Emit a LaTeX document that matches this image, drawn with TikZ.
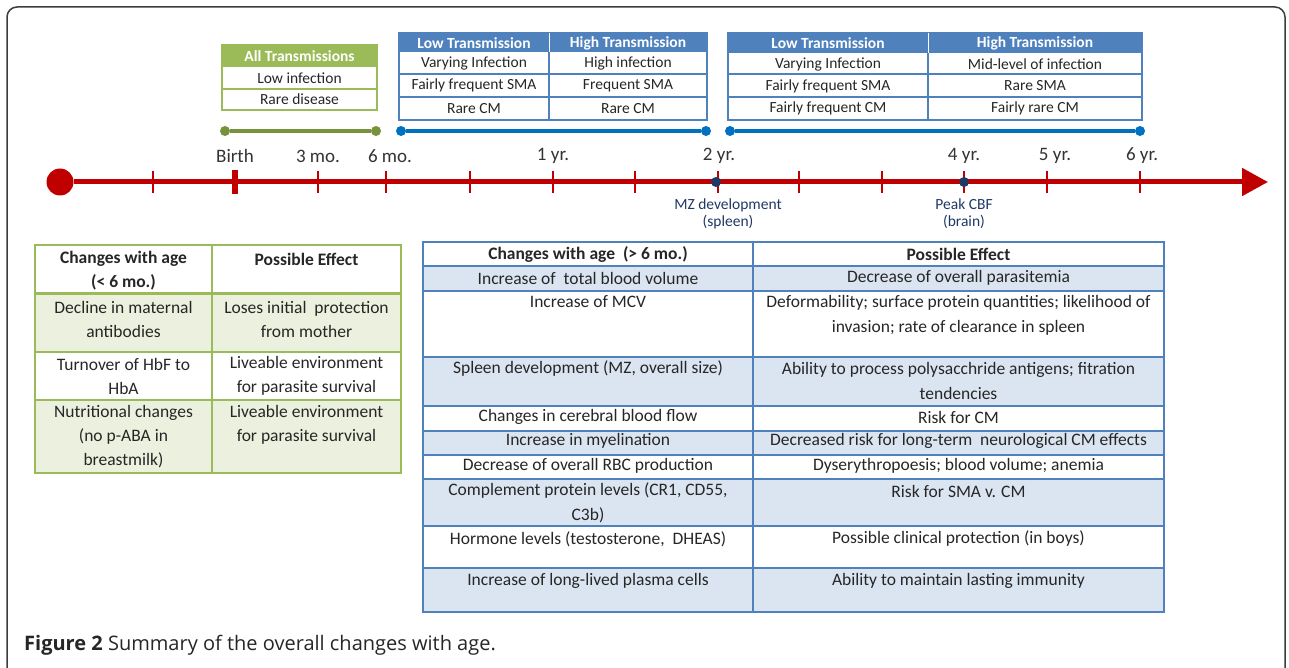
\documentclass[tikz,border=0pt]{standalone}
\usepackage{fontspec}
\setmainfont{Carlito}
\newfontfamily\capfont{Open Sans}
\usetikzlibrary{arrows.meta}
\pgfdeclarelayer{celllayer}
\pgfdeclarelayer{gridlayer}
\pgfsetlayers{celllayer,gridlayer,main}
\definecolor{tlred}{RGB}{192,0,0}
\definecolor{grnhead}{RGB}{155,187,89}
\definecolor{grnline}{RGB}{118,146,60}
\definecolor{grnpale}{RGB}{235,241,222}
\definecolor{bluhead}{RGB}{79,129,189}
\definecolor{bluline}{RGB}{0,112,192}
\definecolor{blupale}{RGB}{219,229,241}
\definecolor{navy}{RGB}{31,56,100}
\definecolor{framegray}{RGB}{60,60,60}
\tikzstyle{tick label}=[font=\fontsize{19}{19}\selectfont, text=black!80, inner sep=0pt]
\tikzstyle{event label}=[font=\fontsize{15.5}{17}\selectfont, text=navy, align=center, inner sep=0pt]
\tikzstyle{event dot}=[circle, fill=navy, inner sep=0pt, minimum size=10pt]
\tikzstyle{green dot}=[circle, fill=grnline, inner sep=0pt, minimum size=10pt]
\tikzstyle{blue dot}=[circle, fill=bluline, inner sep=0pt, minimum size=10pt]
\tikzstyle{green period}=[draw=grnline, line width=3.5pt]
\tikzstyle{blue period}=[draw=bluline, line width=3.5pt]
\tikzstyle{top cell}=[font=\fontsize{15.5}{18}\selectfont, text=black!85, inner sep=0pt]
\tikzstyle{top head}=[font=\fontsize{15.5}{18}\selectfont\bfseries, text=white, inner sep=0pt]
\tikzstyle{left cell}=[font=\fontsize{17.5}{24}\selectfont, text=black!85, align=center, inner sep=0pt]
\tikzstyle{left head}=[left cell, font=\fontsize{17.5}{24}\selectfont\bfseries]
\tikzstyle{right cell}=[font=\fontsize{17.5}{25}\selectfont, text=black!85, align=center, inner sep=0pt]
\tikzstyle{right head}=[right cell, font=\fontsize{17.5}{25}\selectfont\bfseries]

\begin{document}
\begin{tikzpicture}[x=1pt, y=-1pt]
	\useasboundingbox (0,0) rectangle (1289,668);
	% frame
	\draw [framegray, line width=1.5pt, rounded corners=10pt] (7,668) -- (7,7) -- (1285,7) -- (1285,668);
	\begin{pgfonlayer}{celllayer}
		% top tables
		\fill [grnhead] (222,45) rectangle (377,67);
		\fill [bluhead] (399,33) rectangle (707,52);
		\fill [bluhead] (728,33) rectangle (1142,53);
		% left table
		\fill [grnpale] (35,293) rectangle (401,352);
		\fill [grnpale] (35,400) rectangle (401,473);
		% right table
		\foreach \a/\b in {266/291, 357/406, 431/455, 479/526, 568/612}
			\fill [blupale] (423,\a) rectangle (1164,\b);
	\end{pgfonlayer}
	\begin{pgfonlayer}{gridlayer}
		\draw [grnhead, line width=1.5pt] (222,45) rectangle (377,110);
		\draw [grnhead, line width=1.2pt] (222,89) -- (377,89);
		\draw [bluhead, line width=1.5pt] (399,33) rectangle (707,120);
		\draw [bluhead, line width=1.2pt] (399,74) -- (707,74) (399,97) -- (707,97) (549,52) -- (549,120);
		\draw [white, line width=0.8pt] (549,33) -- (549,52);
		\draw [bluhead, line width=1.5pt] (728,33) rectangle (1142,120);
		\draw [bluhead, line width=1.2pt] (728,74) -- (1142,74) (728,97) -- (1142,97) (928,53) -- (928,120);
		\draw [white, line width=0.8pt] (928,33) -- (928,53);
		\draw [grnhead, line width=2pt] (35,245) rectangle (401,473);
		\draw [grnhead, line width=3pt] (35,293) -- (401,293);
		\draw [grnhead, line width=1.5pt] (35,352) -- (401,352) (35,400) -- (401,400) (212,245) -- (212,473);
		\draw [bluhead, line width=2pt] (423,242) rectangle (1164,612);
		\draw [bluhead, line width=2.5pt] (423,266) -- (1164,266);
		\foreach \y in {291,357,406,431,455,479,526,568}
			\draw [bluhead, line width=1.2pt] (423,\y) -- (1164,\y);
		\draw [bluhead, line width=1.5pt] (753,242) -- (753,612);
	\end{pgfonlayer}
	% time line
	\node [circle, fill=tlred, inner sep=0pt, minimum size=27pt] (origin) at (60,182) {};
	\coordinate (tip) at (1268,182);
	\draw [tlred, line width=5pt, -{Triangle[length=26pt, width=27pt]}] (origin) -- (tip);
	\foreach \x in {153,318,386,470,553,635,718,799,882,964,1047,1140}
		\draw [tlred, line width=1.6pt] (\x,171) -- (\x,193);
	\draw [tlred, line width=6pt] (235,170) -- (235,194);
	\node [style=tick label] (birth) at (235,156) {Birth};
	\node [style=tick label] (m3) at (318,156) {3 mo.};
	\node [style=tick label] (m6) at (390,156) {6 mo.};
	\node [style=tick label] (y1) at (553,156) {1 yr.};
	\node [style=tick label] (y2) at (719,156) {2 yr.};
	\node [style=tick label] (y4) at (964,156) {4 yr.};
	\node [style=tick label] (y5) at (1055,156) {5 yr.};
	\node [style=tick label] (y6) at (1142,156) {6 yr.};
	\node [style=event dot] (mz) at (716,182) {};
	\node [style=event dot] (cbf) at (964,182) {};
	\node [style=event label] (mzlabel) at (728,213.5) {MZ development\\(spleen)};
	\node [style=event label] (cbflabel) at (964,213.5) {Peak CBF\\(brain)};
	% periods
	\node [style=green dot] (g0) at (225,131) {};
	\node [style=green dot] (g1) at (376,131) {};
	\node [style=blue dot] (b0) at (401,131) {};
	\node [style=blue dot] (b1) at (706,131) {};
	\node [style=blue dot] (b2) at (730,131) {};
	\node [style=blue dot] (b3) at (1140,131) {};
	\draw [style=green period] (g0) -- (g1);
	\draw [style=blue period] (b0) -- (b1);
	\draw [style=blue period] (b2) -- (b3);
	% transmission boxes
	\node [style=top head] (all) at (299.5,56) {All Transmissions};
	\node [style=top cell] (all1) at (299.5,78) {Low infection};
	\node [style=top cell] (all2) at (299.5,99.5) {Rare disease};
	\node [style=top head] (lo1) at (474,43) {Low Transmission};
	\node [style=top head] (hi1) at (628,43) {High Transmission};
	\node [style=top cell] (lo11) at (474,63) {Varying Infection};
	\node [style=top cell] (hi11) at (628,63) {High infection};
	\node [style=top cell] (lo12) at (474,85.5) {Fairly frequent SMA};
	\node [style=top cell] (hi12) at (628,85.5) {Frequent SMA};
	\node [style=top cell] (lo13) at (474,108.5) {Rare CM};
	\node [style=top cell] (hi13) at (628,108.5) {Rare CM};
	\node [style=top head] (lo2) at (828,43) {Low Transmission};
	\node [style=top head] (hi2) at (1035,43) {High Transmission};
	\node [style=top cell] (lo21) at (828,64) {Varying Infection};
	\node [style=top cell] (hi21) at (1035,64) {Mid-level of infection};
	\node [style=top cell] (lo22) at (828,86) {Fairly frequent SMA};
	\node [style=top cell] (hi22) at (1035,86) {Rare SMA};
	\node [style=top cell] (lo23) at (828,108.5) {Fairly frequent CM};
	\node [style=top cell] (hi23) at (1035,108.5) {Fairly rare CM};
	% changes before 6 months
	\node [style=left head] (l0a) at (123.5,271) {Changes with age\\(< 6 mo.)};
	\node [style=left head] (l0b) at (306.5,259) {Possible Effect};
	\node [style=left cell] (l1a) at (123.5,319) {Decline in maternal\\antibodies};
	\node [style=left cell] (l1b) at (306.5,319) {Loses initial\ \ protection\\from mother};
	\node [style=left cell] (l2a) at (123.5,376) {Turnover of HbF to\\HbA};
	\node [style=left cell] (l2b) at (306.5,376) {Liveable environment\\for parasite survival};
	\node [style=left cell] (l3a) at (123.5,437) {Nutritional changes\\(no p-ABA in\\breastmilk)};
	\node [style=left cell] (l3b) at (306.5,424.5) {Liveable environment\\for parasite survival};
	% changes after 6 months
	\node [style=right head] (r0a) at (588,254) {Changes with age\ \ (> 6 mo.)};
	\node [style=right head] (r0b) at (958.5,254) {Possible Effect};
	\node [style=right cell] (r1a) at (588,278) {Increase of\ \ total blood volume};
	\node [style=right cell] (r1b) at (958.5,278) {Decrease of overall parasitemia};
	\node [style=right cell] (r2a) at (588,302) {Increase of MCV};
	\node [style=right cell] (r2b) at (958.5,315.5) {Deformability; surface protein quantities; likelihood of\\invasion; rate of clearance in spleen};
	\node [style=right cell] (r3a) at (588,369) {Spleen development (MZ, overall size)};
	\node [style=right cell] (r3b) at (958.5,381) {Ability to process polysacchride antigens; fitration\\tendencies};
	\node [style=right cell] (r4a) at (588,417) {Changes in cerebral blood flow};
	\node [style=right cell] (r4b) at (958.5,417) {Risk for CM};
	\node [style=right cell] (r5a) at (588,441) {Increase in myelination};
	\node [style=right cell] (r5b) at (958.5,441) {Decreased risk for long-term\ \ neurological CM effects};
	\node [style=right cell] (r6a) at (588,466) {Decrease of overall RBC production};
	\node [style=right cell] (r6b) at (958.5,466) {Dyserythropoesis; blood volume; anemia};
	\node [style=right cell] (r7a) at (588,503) {Complement protein levels (CR1, CD55,\\C3b)};
	\node [style=right cell] (r7b) at (958.5,491) {Risk for SMA v. CM};
	\node [style=right cell] (r8a) at (588,539) {Hormone levels (testosterone,\ \ DHEAS)};
	\node [style=right cell] (r8b) at (958.5,539) {Possible clinical protection (in boys)};
	\node [style=right cell] (r9a) at (588,581) {Increase of long-lived plasma cells};
	\node [style=right cell] (r9b) at (958.5,581) {Ability to maintain lasting immunity};
	% caption
	\node [anchor=west, inner sep=0pt, font=\capfont\fontsize{20}{22}\selectfont, text=black!85] (caption) at (24,645) {\textbf{Figure 2} Summary of the overall changes with age.};
\end{tikzpicture}
\end{document}
